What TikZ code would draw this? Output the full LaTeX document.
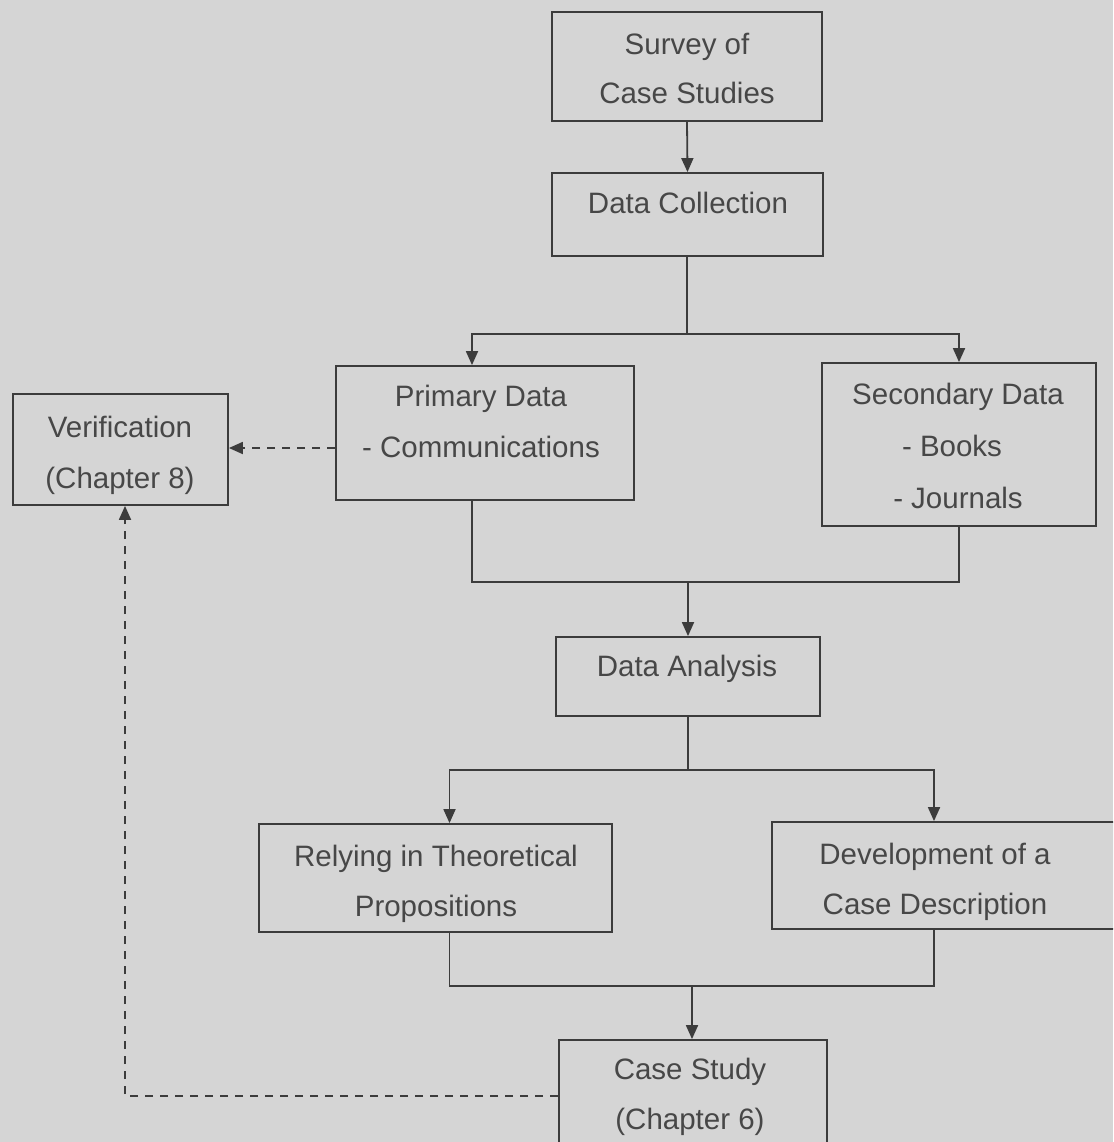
\documentclass[tikz,border=0pt]{standalone}
\usepackage{fontspec}
\setmainfont{Liberation Sans}
\usetikzlibrary{arrows.meta}
\definecolor{paper}{HTML}{D5D5D5}
\definecolor{ink}{HTML}{3C3C3C}
\definecolor{txt}{HTML}{474747}
\begin{document}
\begin{tikzpicture}[x=1pt,y=-1pt,
  box/.style={draw=ink, line width=1.8pt, fill=paper, inner sep=0pt},
  lbl/.style={anchor=base, inner sep=0pt, text=txt, font=\fontsize{29.5}{36}\selectfont},
  wire/.style={draw=ink, line width=1.8pt},
  flow/.style={wire, -{Triangle[width=12pt,length=14pt]}},
  hint/.style={draw=ink, line width=1.8pt, dash pattern=on 8pt off 7pt,
               -{Triangle[width=12pt,length=14pt]}}]

% page
\clip (0,0) rectangle (1113,1142);
\fill[paper] (0,0) rectangle (1113,1142);

% boxes (centre, width, height)
\node[box, minimum width=270pt, minimum height=109pt] (survey)    at (687,66.5)   {};
\node[box, minimum width=271pt, minimum height=83pt]  (collect)   at (687.5,214.5) {};
\node[box, minimum width=298pt, minimum height=134pt] (primary)   at (485,433)    {};
\node[box, minimum width=274pt, minimum height=163pt] (secondary) at (959,444.5)  {};
\node[box, minimum width=215pt, minimum height=111pt] (verify)    at (120.5,449.5) {};
\node[box, minimum width=264pt, minimum height=79pt]  (analysis)  at (688,676.5)  {};
\node[box, minimum width=353pt, minimum height=108pt] (relying)   at (435.5,878)  {};
\node[box, minimum width=358pt, minimum height=107pt] (develop)   at (951,875.5)  {};
\node[box, minimum width=268pt, minimum height=120pt] (casestudy) at (693,1100)   {};

% texts
\node[lbl] (survey-a)    at (687,55)    {Survey of};
\node[lbl] (survey-b)    at (687,104)   {Case Studies};
\node[lbl] (collect-a)   at (688,213)   {Data Collection};
\node[lbl] (primary-a)   at (481,406)   {Primary Data};
\node[lbl] (primary-b)   at (481,457)   {- Communications};
\node[lbl] (secondary-a) at (958,404)   {Secondary Data};
\node[lbl] (secondary-b) at (952,456)   {- Books};
\node[lbl] (secondary-c) at (958,508)   {- Journals};
\node[lbl] (verify-a)    at (120,437)   {Verification};
\node[lbl] (verify-b)    at (120,488)   {(Chapter 8)};
\node[lbl] (analysis-a)  at (687,676)   {Data Analysis};
\node[lbl] (relying-a)   at (436,866)   {Relying in Theoretical};
\node[lbl] (relying-b)   at (436,916)   {Propositions};
\node[lbl] (develop-a)   at (935,864)   {Development of a};
\node[lbl] (develop-b)   at (935,914)   {Case Description};
\node[lbl] (casestudy-a) at (690,1079)  {Case Study};
\node[lbl] (casestudy-b) at (690,1129)  {(Chapter 6)};

% junction points
\coordinate (split1) at (687,334);
\coordinate (merge1) at (688,582);
\coordinate (split2) at (688,770);
\coordinate (merge2) at (692,986);
\coordinate (bend)   at (125,1096);

% solid connectors
\draw[flow] (survey.south) -- (collect.north);
\draw[wire] (collect.south -| split1) -- (split1);
\draw[flow] (split1) -| ([xshift=-13pt]primary.north);
\draw[flow] (split1) -| (secondary.north);
\draw[wire] ([xshift=-13pt]primary.south) |- (merge1) -| (secondary.south);
\draw[flow] (merge1) -- (analysis.north -| merge1);
\draw[wire] (analysis.south -| split2) -- (split2);
\draw[flow] (split2) -| ([xshift=14pt]relying.north);
\draw[flow] (split2) -| ([xshift=-17pt]develop.north);
\draw[wire] ([xshift=14pt]relying.south) |- (merge2) -| ([xshift=-17pt]develop.south);
\draw[flow] (merge2) -- (casestudy.north -| merge2);

% dashed connectors
\draw[hint] (primary.west |- 0,448) -- (verify.east |- 0,448);
\draw[hint] (casestudy.west |- bend) -- (bend) -- (verify.south -| bend);
\end{tikzpicture}
\end{document}
